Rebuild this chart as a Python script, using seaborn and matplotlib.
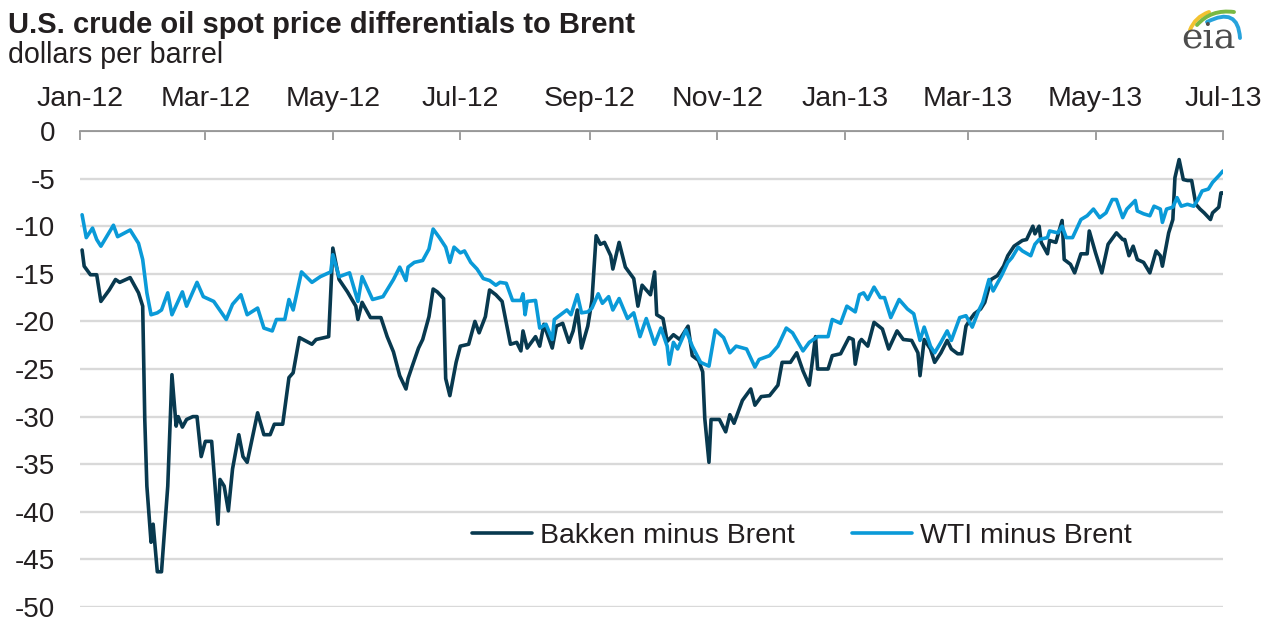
import pandas as pd
import numpy as np
import matplotlib.pyplot as plt
from matplotlib.path import Path
from matplotlib.patches import PathPatch
import seaborn as sns

# Bakken minus Brent, dollars per barrel
bakken_dates = [
    "2012-01-02", "2012-01-03", "2012-01-06", "2012-01-09", "2012-01-11", "2012-01-15", "2012-01-18", "2012-01-20", "2012-01-25", "2012-01-29", "2012-01-31",
    "2012-02-01", "2012-02-02", "2012-02-04", "2012-02-05", "2012-02-07", "2012-02-09", "2012-02-12", "2012-02-14", "2012-02-16", "2012-02-17", "2012-02-19", "2012-02-21", "2012-02-24", "2012-02-26", "2012-02-28",
    "2012-03-01", "2012-03-04", "2012-03-07", "2012-03-08", "2012-03-10", "2012-03-12", "2012-03-14", "2012-03-17", "2012-03-19", "2012-03-21", "2012-03-26", "2012-03-29",
    "2012-04-01", "2012-04-03", "2012-04-07", "2012-04-10", "2012-04-12", "2012-04-15", "2012-04-21", "2012-04-23", "2012-04-29",
    "2012-05-01", "2012-05-04", "2012-05-08", "2012-05-12", "2012-05-13", "2012-05-15", "2012-05-19", "2012-05-24", "2012-05-27", "2012-05-30",
    "2012-06-02", "2012-06-05", "2012-06-06", "2012-06-08", "2012-06-11", "2012-06-13", "2012-06-16", "2012-06-18", "2012-06-20", "2012-06-23", "2012-06-24", "2012-06-26", "2012-06-29",
    "2012-07-01", "2012-07-05", "2012-07-08", "2012-07-10", "2012-07-13", "2012-07-15", "2012-07-18", "2012-07-21", "2012-07-25", "2012-07-28", "2012-07-30", "2012-07-31",
    "2012-08-02", "2012-08-06", "2012-08-08", "2012-08-10", "2012-08-14", "2012-08-16", "2012-08-19", "2012-08-22", "2012-08-24", "2012-08-26", "2012-08-28", "2012-08-31",
    "2012-09-02", "2012-09-04", "2012-09-06", "2012-09-08", "2012-09-11", "2012-09-12", "2012-09-15", "2012-09-18", "2012-09-22", "2012-09-24", "2012-09-26", "2012-09-30",
    "2012-10-02", "2012-10-03", "2012-10-06", "2012-10-08", "2012-10-11", "2012-10-14", "2012-10-18", "2012-10-20", "2012-10-23", "2012-10-25", "2012-10-26", "2012-10-28", "2012-10-29",
    "2012-11-02", "2012-11-05", "2012-11-07", "2012-11-09", "2012-11-13", "2012-11-17", "2012-11-19", "2012-11-22", "2012-11-26", "2012-11-30",
    "2012-12-02", "2012-12-06", "2012-12-09", "2012-12-12", "2012-12-15", "2012-12-18", "2012-12-19", "2012-12-24", "2012-12-26", "2012-12-30",
    "2013-01-03", "2013-01-05", "2013-01-06", "2013-01-08", "2013-01-09", "2013-01-12", "2013-01-15", "2013-01-19", "2013-01-22", "2013-01-26", "2013-01-29",
    "2013-02-02", "2013-02-05", "2013-02-06", "2013-02-08", "2013-02-11", "2013-02-13", "2013-02-16", "2013-02-19", "2013-02-21", "2013-02-24", "2013-02-26", "2013-02-28",
    "2013-03-02", "2013-03-04", "2013-03-07", "2013-03-09", "2013-03-12", "2013-03-15", "2013-03-18", "2013-03-20", "2013-03-23", "2013-03-27", "2013-03-29",
    "2013-04-01", "2013-04-02", "2013-04-04", "2013-04-05", "2013-04-08", "2013-04-09", "2013-04-12", "2013-04-15", "2013-04-16", "2013-04-19", "2013-04-21", "2013-04-24", "2013-04-27", "2013-04-28",
    "2013-05-01", "2013-05-04", "2013-05-07", "2013-05-11", "2013-05-14", "2013-05-15", "2013-05-17", "2013-05-19", "2013-05-21", "2013-05-24", "2013-05-27", "2013-05-30",
    "2013-06-01", "2013-06-02", "2013-06-05", "2013-06-07", "2013-06-08", "2013-06-10", "2013-06-12", "2013-06-14", "2013-06-16", "2013-06-18", "2013-06-20", "2013-06-22", "2013-06-25", "2013-06-26", "2013-06-29", "2013-06-30", "2013-07-01",
]
bakken_values = [
    -12.5, -14.2, -15.1, -15.1, -17.9, -16.7, -15.6, -15.9, -15.4, -17.0, -18.4,
    -30.3, -37.3, -43.2, -41.3, -46.3, -46.3, -37.3, -25.6, -31.0, -30.0, -31.1, -30.3, -30.0, -30.0, -34.2,
    -32.6, -32.6, -41.3, -36.6, -37.3, -39.9, -35.5, -31.9, -34.2, -34.8, -29.6, -31.9,
    -31.9, -30.8, -30.8, -25.9, -25.4, -21.7, -22.4, -21.9, -21.6,
    -12.3, -15.6, -16.9, -18.4, -19.8, -18.0, -19.6, -19.6, -21.6, -23.2,
    -25.7, -27.1, -26.0, -24.7, -22.8, -21.9, -19.5, -16.6, -16.9, -17.6, -26.0, -27.8, -24.3,
    -22.6, -22.4, -20.0, -21.2, -19.5, -16.7, -17.2, -17.9, -22.4, -22.2, -23.1, -21.0,
    -22.8, -21.6, -22.6, -20.3, -22.8, -20.5, -20.2, -22.2, -21.0, -18.8, -22.8, -20.5,
    -17.8, -11.0, -11.9, -11.7, -13.1, -14.5, -11.7, -14.3, -15.5, -18.4, -16.2, -17.2,
    -14.8, -19.3, -19.7, -22.1, -21.4, -21.9, -20.5, -23.6, -24.1, -25.3, -30.2, -34.8, -30.3,
    -30.3, -31.6, -29.8, -30.7, -28.3, -27.1, -28.8, -27.9, -27.8, -26.7,
    -24.3, -24.3, -23.3, -25.2, -26.7, -21.6, -25.0, -25.0, -23.6, -23.4,
    -21.7, -21.9, -24.5, -22.2, -21.9, -22.6, -20.1, -20.8, -22.9, -21.0, -21.9,
    -22.0, -23.3, -25.7, -21.9, -22.9, -24.3, -23.3, -22.0, -22.9, -23.4, -23.4, -20.5,
    -19.8, -19.2, -18.7, -18.0, -15.6, -15.2, -14.2, -13.1, -12.1, -11.5, -11.4,
    -10.0, -10.8, -10.0, -11.7, -12.9, -11.5, -11.7, -9.4, -13.5, -14.0, -14.9, -12.9, -12.9, -10.5,
    -12.8, -14.9, -11.9, -10.7, -11.4, -11.4, -13.1, -12.1, -13.5, -13.8, -14.9, -12.6,
    -13.1, -14.2, -10.7, -9.3, -4.9, -3.0, -5.1, -5.2, -5.2, -7.7, -8.2, -8.6, -9.3, -8.6, -8.0, -6.5, -6.5,
]

# WTI minus Brent, dollars per barrel
wti_dates = [
    "2012-01-02", "2012-01-04", "2012-01-07", "2012-01-09", "2012-01-11", "2012-01-17", "2012-01-19", "2012-01-25", "2012-01-29", "2012-01-31",
    "2012-02-02", "2012-02-04", "2012-02-07", "2012-02-09", "2012-02-12", "2012-02-14", "2012-02-19", "2012-02-21", "2012-02-26", "2012-02-29",
    "2012-03-05", "2012-03-11", "2012-03-14", "2012-03-18", "2012-03-21", "2012-03-26", "2012-03-29",
    "2012-04-02", "2012-04-04", "2012-04-08", "2012-04-10", "2012-04-12", "2012-04-16", "2012-04-21", "2012-04-25", "2012-04-30",
    "2012-05-01", "2012-05-04", "2012-05-09", "2012-05-13", "2012-05-15", "2012-05-20", "2012-05-25", "2012-05-30",
    "2012-06-02", "2012-06-05", "2012-06-06", "2012-06-09", "2012-06-13", "2012-06-16", "2012-06-18", "2012-06-21", "2012-06-24", "2012-06-26", "2012-06-28",
    "2012-07-01", "2012-07-03", "2012-07-06", "2012-07-09", "2012-07-12", "2012-07-15", "2012-07-18", "2012-07-20", "2012-07-23", "2012-07-26", "2012-07-30", "2012-07-31",
    "2012-08-01", "2012-08-02", "2012-08-06", "2012-08-08", "2012-08-11", "2012-08-14", "2012-08-15", "2012-08-18", "2012-08-21", "2012-08-23", "2012-08-26", "2012-08-28", "2012-08-31",
    "2012-09-02", "2012-09-05", "2012-09-07", "2012-09-10", "2012-09-12", "2012-09-15", "2012-09-19", "2012-09-22", "2012-09-25", "2012-09-28",
    "2012-10-02", "2012-10-05", "2012-10-08", "2012-10-09", "2012-10-11", "2012-10-13", "2012-10-17", "2012-10-20", "2012-10-24", "2012-10-28", "2012-10-31",
    "2012-11-04", "2012-11-07", "2012-11-10", "2012-11-15", "2012-11-19", "2012-11-21", "2012-11-26", "2012-11-30",
    "2012-12-04", "2012-12-07", "2012-12-12", "2012-12-15", "2012-12-19", "2012-12-24", "2012-12-26", "2012-12-30",
    "2013-01-02", "2013-01-06", "2013-01-08", "2013-01-10", "2013-01-12", "2013-01-15", "2013-01-18", "2013-01-20", "2013-01-23", "2013-01-27", "2013-01-31",
    "2013-02-03", "2013-02-06", "2013-02-08", "2013-02-11", "2013-02-13", "2013-02-16", "2013-02-19", "2013-02-21", "2013-02-25", "2013-02-28",
    "2013-03-03", "2013-03-06", "2013-03-08", "2013-03-11", "2013-03-13", "2013-03-17", "2013-03-20", "2013-03-22", "2013-03-25", "2013-03-27", "2013-03-31",
    "2013-04-02", "2013-04-04", "2013-04-08", "2013-04-09", "2013-04-13", "2013-04-15", "2013-04-17", "2013-04-20", "2013-04-24", "2013-04-27", "2013-04-30",
    "2013-05-03", "2013-05-06", "2013-05-09", "2013-05-11", "2013-05-14", "2013-05-16", "2013-05-20", "2013-05-21", "2013-05-24", "2013-05-27", "2013-05-29",
    "2013-06-01", "2013-06-02", "2013-06-04", "2013-06-07", "2013-06-09", "2013-06-11", "2013-06-14", "2013-06-17", "2013-06-19", "2013-06-21", "2013-06-24", "2013-06-26", "2013-06-29", "2013-07-01",
]
wti_values = [
    -8.8, -11.2, -10.2, -11.4, -12.1, -9.9, -11.1, -10.4, -11.8, -13.5,
    -17.0, -19.3, -19.1, -18.8, -17.0, -19.3, -16.9, -18.4, -15.9, -17.4,
    -17.9, -19.8, -18.2, -17.2, -19.3, -18.6, -20.7,
    -21.0, -19.8, -19.8, -17.7, -18.8, -14.8, -15.9, -15.3, -14.8,
    -13.0, -15.3, -14.9, -17.9, -15.3, -17.7, -17.4, -15.6,
    -14.3, -15.7, -14.3, -13.8, -13.6, -12.4, -10.3, -11.2, -12.2, -13.8, -12.2,
    -12.8, -12.6, -13.8, -14.5, -15.5, -15.7, -16.2, -15.9, -16.0, -17.8, -17.8, -17.1,
    -19.3, -17.9, -17.8, -20.7, -20.3, -21.9, -19.8, -19.3, -18.8, -19.3, -17.2, -19.1, -19.0,
    -18.6, -17.1, -18.1, -17.4, -18.8, -17.6, -19.7, -19.1, -21.6, -19.7,
    -22.4, -20.7, -22.6, -24.5, -22.2, -22.9, -20.9, -22.6, -24.3, -24.7, -20.9,
    -21.7, -23.3, -22.6, -22.9, -24.8, -24.0, -23.6, -22.6,
    -20.7, -21.2, -23.1, -22.2, -21.6, -21.6, -19.8, -20.2,
    -18.4, -19.0, -17.2, -17.0, -17.7, -16.4, -17.5, -17.5, -19.6, -17.7, -18.7,
    -19.2, -22.0, -20.6, -22.6, -23.3, -22.2, -21.0, -22.0, -19.6, -19.4,
    -20.6, -18.9, -18.0, -15.6, -16.8, -15.2, -13.8, -13.3, -12.2, -12.6, -13.1,
    -11.9, -11.4, -11.2, -10.5, -10.7, -10.0, -11.2, -11.2, -9.3, -8.9, -8.2,
    -9.1, -8.6, -7.2, -7.2, -9.1, -8.2, -7.3, -8.4, -8.7, -8.9, -7.9,
    -8.2, -9.6, -8.2, -8.0, -7.0, -7.9, -7.7, -7.9, -7.2, -6.3, -6.1, -5.4, -4.7, -4.2,
]

series_names = ["Bakken minus Brent", "WTI minus Brent"]
tick_dates = ["2012-01-01", "2012-03-01", "2012-05-01", "2012-07-01", "2012-09-01", "2012-11-01",
              "2013-01-01", "2013-03-01", "2013-05-01", "2013-07-01"]
tick_labels = ["Jan-12", "Mar-12", "May-12", "Jul-12", "Sep-12", "Nov-12",
               "Jan-13", "Mar-13", "May-13", "Jul-13"]
y_ticks = [0, -5, -10, -15, -20, -25, -30, -35, -40, -45, -50]

df = pd.concat([
    pd.DataFrame({"data": pd.to_datetime(bakken_dates), "valore": bakken_values, "serie": series_names[0]}),
    pd.DataFrame({"data": pd.to_datetime(wti_dates), "valore": wti_values, "serie": series_names[1]}),
])

sns.set_style("white")
plt.rcParams["font.family"] = ["Liberation Sans", "DejaVu Sans"]
plt.rcParams["axes.unicode_minus"] = False

testo = "#231f20"
colori = {series_names[0]: "#08394f", series_names[1]: "#0a9ad8"}

fig = plt.figure(figsize=(12.72, 6.2), dpi=100)
ax = fig.add_axes([80 / 1272, 13 / 620, 1143 / 1272, 476 / 620])

sns.lineplot(data=df, x="data", y="valore", hue="serie", palette=colori,
             linewidth=2.6, ax=ax, zorder=3)

ax.set_xlim(pd.Timestamp(tick_dates[0]), pd.Timestamp(tick_dates[-1]))
ax.set_ylim(-50, 0)
ax.set_xlabel("")
ax.set_ylabel("")

# asse x in alto, tacche verso l'interno
ax.xaxis.tick_top()
ax.set_xticks(pd.to_datetime(tick_dates))
ax.set_xticklabels(tick_labels)
ax.tick_params(axis="x", direction="in", length=6.5, width=1.2, color="#8c8c8c",
               pad=14, labelsize=20.5, labelcolor=testo)
ax.set_yticks(y_ticks)
ax.set_yticklabels([str(v) for v in y_ticks])
ax.tick_params(axis="y", length=0, pad=18, labelsize=20, labelcolor=testo)

for lato in ["left", "right", "bottom"]:
    ax.spines[lato].set_visible(False)
ax.spines["top"].set_color("#8c8c8c")
ax.spines["top"].set_linewidth(1.2)

ax.yaxis.grid(True, color="#d9d9d9", linewidth=1.7)
ax.xaxis.grid(False)
ax.set_axisbelow(True)

handles, labels = ax.get_legend_handles_labels()
for h in handles:
    h.set_linewidth(2.6)
ax.legend(handles, labels, loc="center left", bbox_to_anchor=(0.343, 0.149),
          ncol=2, frameon=False, fontsize=20.5, handlelength=2.1,
          handletextpad=0.3, columnspacing=2.0, borderpad=0, borderaxespad=0,
          labelcolor=testo)

fig.text(8 / 1272, 1 - 33 / 620, "U.S. crude oil spot price differentials to Brent",
         fontsize=21, fontweight="bold", color=testo, va="baseline")
fig.text(8 / 1272, 1 - 63 / 620, "dollars per barrel",
         fontsize=20.6, color=testo, va="baseline")

# logo eia
logo = fig.add_axes([0, 0, 1, 1], facecolor="none")
logo.set_xlim(0, 1272)
logo.set_ylim(620, 0)
logo.axis("off")
for p0, p1, p2, c in [((1190, 30), (1195, 17), (1209, 12), "#f2c230"),
                      ((1197, 25), (1211, 9), (1234, 12), "#79b843"),
                      ((1207, 22), (1238, 6), (1240, 38), "#27a3dc")]:
    logo.add_patch(PathPatch(Path([p0, p1, p2], [Path.MOVETO, Path.CURVE3, Path.CURVE3]),
                             fill=False, edgecolor=c, linewidth=2.8, capstyle="round"))
logo.text(1208, 48, "eia", fontsize=26, family="DejaVu Serif", color="#4d4d4d",
          ha="center", va="baseline")

fig.savefig("out.png", dpi=100, facecolor="white")
